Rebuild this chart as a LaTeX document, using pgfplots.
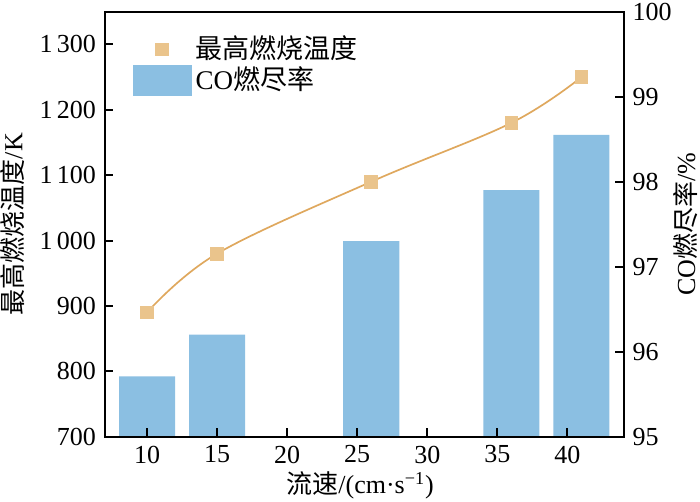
\documentclass[border=0pt]{standalone}
\usepackage{fontspec}
\setmainfont{Liberation Serif}
\newfontfamily\cjk{Noto Sans CJK SC}
\usepackage{pgfplots}
\pgfplotsset{compat=1.18}
\definecolor{barblue}{HTML}{8BBFE2}
\definecolor{markfill}{HTML}{EAC48C}
\definecolor{linec}{HTML}{DFA85E}
\pgfplotsset{
  base/.style={
    scale only axis, width=259.25pt, height=212.5pt,
    at={(0,0)}, anchor=south west,
    xmin=7, xmax=44,
    axis line style={line width=1pt, black},
    tick style={line width=1pt, black},
    major tick length=4.2pt,
    tick align=inside,
    /pgf/number format/assume math mode=true,
  }
}
\begin{document}
\fontsize{13}{15.6}\selectfont
\begin{tikzpicture}
% right axis: bars
\begin{axis}[base,
  ymin=95, ymax=100,
  hide x axis,
  ytick={95,96,97,98,99,100},
  ytick pos=right, yticklabel pos=right,
  ylabel={CO{\cjk 燃尽率}/\%},
  ylabel style={at={(axis description cs:1.119,0.5)}, anchor=center},
  ybar, bar width=4,
]
\addplot[ybar, fill=barblue, draw=none, bar width=4] coordinates {
  (10,95.71) (15,96.20) (26,97.30) (36,97.90) (41,98.55)
};
\end{axis}
% left axis: temperature
\begin{axis}[base,
  ymin=700, ymax=1350,
  xtick={10,15,20,25,30,35,40},
  xtick pos=bottom,
  ytick={700,800,900,1000,1100,1200,1300},
  yticklabels={700,800,900,1\,000,1\,100,1\,200,1\,300},
  ytick pos=left,
  ylabel={{\cjk 最高燃烧温度}/K},
  ylabel style={at={(axis description cs:-0.1784,0.5)}, anchor=center},
  xlabel={{\cjk 流速}/(cm·s\textsuperscript{−1})},
  xlabel style={at={(axis description cs:0.492,-0.1136)}, anchor=center},
  legend style={draw=none, fill=none, at={(axis description cs:0,1)}, anchor=north west,
    xshift=10.7pt, yshift=-8pt, row sep=-2pt, font=\fontsize{13.5}{16}\selectfont},
  legend cell align=left,
]
\addplot[smooth, tension=0.6, color=linec, line width=0.85pt, forget plot] coordinates {
  (10,890) (15,980) (26,1090) (36,1180) (41,1250)
};
\addplot[only marks, mark=square*, mark size=3.2pt, mark options={fill=markfill, draw=markfill},
  legend image code/.code={\fill[markfill] (11.3pt,-3.2pt) rectangle (17.7pt,3.2pt);}]
  coordinates {
  (10,890) (15,980) (26,1090) (36,1180) (41,1250)
};
\addlegendentry{\cjk 最高燃烧温度}
\addlegendimage{legend image code/.code={\fill[barblue] (0pt,-7.5pt) rectangle (29pt,7.5pt);}}
\addlegendentry{CO{\cjk 燃尽率}}
\end{axis}
\pgfresetboundingbox
\path (-52.5pt,-32.65pt) rectangle (297.5pt,218.35pt);
\end{tikzpicture}
\end{document}
